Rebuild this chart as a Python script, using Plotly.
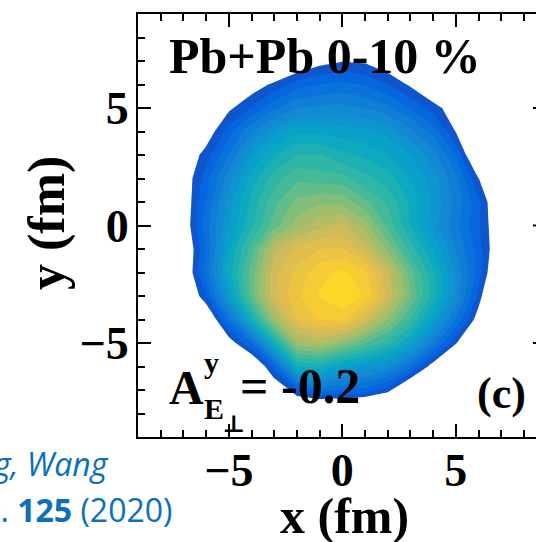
import plotly.graph_objects as go

# ---------------- data ----------------
x_fm = [-8, -7, -6, -5, -4, -3, -2, -1, 0, 1, 2, 3, 4, 5, 6, 7, 8]
y_fm = [-8, -7, -6, -5, -4, -3, -2, -1, 0, 1, 2, 3, 4, 5, 6, 7, 8]

# energy-density-like level (arbitrary units, band index), one row per y value (y ascending)
row_ym8 = [-3, -3, -3, -3, -3, -3, -1.6, -3.5, -3.2, -3.5, -4, -3, -3, -3, -3, -3, -3]
row_ym7 = [-3, -3, -3, -3, -3, -1, 1.2, 3.0, 2.5, 2.2, 1.0, -2, -3, -3, -3, -3, -3]
row_ym6 = [-3, -3, -3, -3, -1.75, 2.0, 8.5, 8.8, 7.0, 6.3, 5.3, 3.0, -0.25, -2, -3, -3, -3]
row_ym5 = [-3, -3, -3, -0.36, 2.5, 8.5, 14.0, 14.8, 13.5, 11.5, 10.0, 7.5, 4.0, 0.6, -1.4, -3, -3]
row_ym4 = [-3, -3, -1.5, 3.0, 8.5, 14.0, 17.5, 18.6, 18.8, 16.5, 13.5, 10.5, 7.0, 3.5, -0.25, -3, -3]
row_ym3 = [-3, -1.8, 1.5, 6.5, 12.0, 16.3, 18.3, 19.6, 20.4, 19.4, 16.3, 12.5, 9.0, 5.3, 1.2, -3.5, -3]
row_ym2 = [-3, -1.17, 3.0, 8.0, 12.0, 16.2, 17.8, 19.2, 19.7, 18.8, 15.8, 12.0, 8.8, 5.3, 2.0, -1.75, -3]
row_ym1 = [-3, -1.14, 2.5, 7.5, 11.0, 15.2, 16.8, 17.5, 17.6, 16.0, 13.2, 10.0, 7.5, 4.5, 2.0, -1.0, -3]
row_y0 = [-3, -0.57, 3.0, 6.5, 9.3, 12.0, 14.0, 15.2, 15.8, 14.0, 11.2, 8.5, 6.0, 3.8, 1.6, -0.84, -3]
row_y1 = [-3, -0.63, 2.6, 6.0, 8.8, 11.2, 12.8, 13.3, 13.2, 11.8, 10.3, 8.3, 6.3, 4.2, 1.8, -1.45, -3]
row_y2 = [-3, -0.5, 2.0, 5.0, 8.0, 10.0, 11.3, 11.0, 10.8, 9.8, 9.0, 7.5, 6.0, 3.8, 0.55, -2, -3]
row_y3 = [-3, -0.7, 1.0, 3.5, 6.5, 8.3, 9.5, 9.6, 8.8, 8.3, 7.6, 6.5, 5.0, 2.5, -1.9, -3, -3]
row_y4 = [-3, -2, -0.4, 2.0, 4.5, 6.3, 7.3, 7.3, 7.0, 6.8, 6.2, 4.8, 3.2, 0.45, -1, -3, -3]
row_y5 = [-3, -3, -2, 0.22, 1.6, 3.2, 4.5, 4.8, 4.8, 4.5, 3.8, 2.5, 1.0, -0.25, -2, -3, -3]
row_y6 = [-3, -3, -3, -1.5, -0.3, 0.8, 2.0, 2.5, 2.8, 2.4, 1.5, 0.3, -1, -2, -3, -3, -3]
row_y7 = [-3, -3, -3, -3, -3, -2.2, -1, 0, 0.43, 0.29, -0.5, -2, -3, -3, -3, -3, -3]
row_y8 = [-3, -3, -3, -3, -3, -3, -3, -3, -3, -3, -3, -3, -3, -3, -3, -3, -3]

z_rows = [row_ym8, row_ym7, row_ym6, row_ym5, row_ym4, row_ym3, row_ym2, row_ym1,
          row_y0, row_y1, row_y2, row_y3, row_y4, row_y5, row_y6, row_y7, row_y8]

x_tick_step = 5
y_tick_step = 5

# ---------------- styling ----------------
W, H = 536, 542
ML, MR, MT, MB = 138, 0, 14, 105
PX_PER_FM = 22.7
X_RANGE = [-9, -9 + (W - ML - MR) / PX_PER_FM]
Y_RANGE = [-9, 9]

SERIF = "Liberation Serif"
BLUE_TXT = "#0b6fbd"

PARULA = ['#352a87', '#0363e1', '#1485d4', '#06a7c6', '#38b99e',
          '#92bf73', '#d9ba56', '#fcce2e', '#f9fb0e']


def _hex2rgb(h):
    h = h.lstrip('#')
    return tuple(int(h[i:i + 2], 16) for i in (0, 2, 4))


def parula(p):
    p = min(max(p, 0.0), 1.0)
    n = len(PARULA) - 1
    i = min(int(p * n), n - 1)
    t = p * n - i
    a, b = _hex2rgb(PARULA[i]), _hex2rgb(PARULA[i + 1])
    c = [round(a[k] + (b[k] - a[k]) * t) for k in range(3)]
    return 'rgb(%d,%d,%d)' % tuple(c)


N_BANDS = 20
P_LO, P_HI = 0.095, 0.9
colorscale = [[0.0, '#ffffff']]
for k in range(1, N_BANDS + 1):
    colorscale.append([k / N_BANDS, parula(P_LO + (k - 1) / (N_BANDS - 1) * (P_HI - P_LO))])

fig = go.Figure()
fig.add_trace(go.Contour(
    x=x_fm, y=y_fm, z=z_rows,
    colorscale=colorscale,
    contours=dict(start=0.5, end=N_BANDS - 0.5, size=1, coloring='fill', showlines=False),
    line=dict(width=0, smoothing=0),
    showscale=False,
    hoverinfo='skip',
))


def pxx(xp):
    return (xp - ML) / (W - ML - MR)


def pyy(yp):
    return (H - MB - yp) / (H - MT - MB)


axis_common = dict(
    showline=True, linecolor='black', linewidth=2,
    ticks='inside', ticklen=13, tickwidth=2, tickcolor='black',
    showgrid=False, zeroline=False,
    tickfont=dict(family=SERIF, size=46, color='black', weight='bold'),
)

fig.update_xaxes(range=X_RANGE, tick0=0, dtick=x_tick_step, mirror='ticks',
                 ticklabelstandoff=-8,
                 minor=dict(ticks='inside', dtick=1, tick0=0, ticklen=7, tickwidth=1.5,
                            tickcolor='black', showgrid=False),
                 **axis_common)
fig.update_yaxes(range=Y_RANGE, tick0=0, dtick=y_tick_step, mirror=False,
                 ticklabelstandoff=-2,
                 minor=dict(ticks='inside', dtick=1, tick0=0, ticklen=7, tickwidth=1.5,
                            tickcolor='black', showgrid=False),
                 **axis_common)

ann = []


def add_text(text, xp, yp, size, xanchor='center', yanchor='middle', family=SERIF,
             color='black', angle=0):
    ann.append(dict(text=text, x=pxx(xp), y=pyy(yp), xref='paper', yref='paper',
                    xanchor=xanchor, yanchor=yanchor, showarrow=False, textangle=angle,
                    font=dict(family=family, size=size, color=color)))


add_text('<b>Pb+Pb 0-10 %</b>', 167, 56, 50, xanchor='left')
add_text('<b>(c)</b>', 501, 393, 44)
add_text('<b>A</b>', 167, 387, 48, xanchor='left')
add_text('<b>y</b>', 202, 362, 30, xanchor='left')
add_text('<b>E</b>', 202, 408, 30, xanchor='left')
add_text('<b>⊥</b>', 233, 423, 24, family='DejaVu Serif')
add_text('<b>= -0.2</b>', 238, 386, 50, xanchor='left')
add_text('<b>x (fm)</b>', 344, 516, 50)
add_text('<b>y (fm)</b>', 47, 223, 52, angle=-90)
add_text('<i>g, Wang</i>', 111, 463, 32, xanchor='right', family='Open Sans', color=BLUE_TXT)
add_text('Lett. <b>125</b> (2020)', 174, 509, 32, xanchor='right', family='Open Sans',
         color=BLUE_TXT)

shapes = []
for v in (-5, 0, 5):
    shapes.append(dict(type='line', xref='paper', yref='y', x0=pxx(533), x1=pxx(540),
                       y0=v, y1=v, line=dict(color='black', width=2)))

fig.update_layout(
    width=W, height=H,
    margin=dict(l=ML, r=MR, t=MT, b=MB, pad=0),
    paper_bgcolor='white', plot_bgcolor='white',
    showlegend=False,
    annotations=ann,
    shapes=shapes,
)

fig.write_html("out.html")
